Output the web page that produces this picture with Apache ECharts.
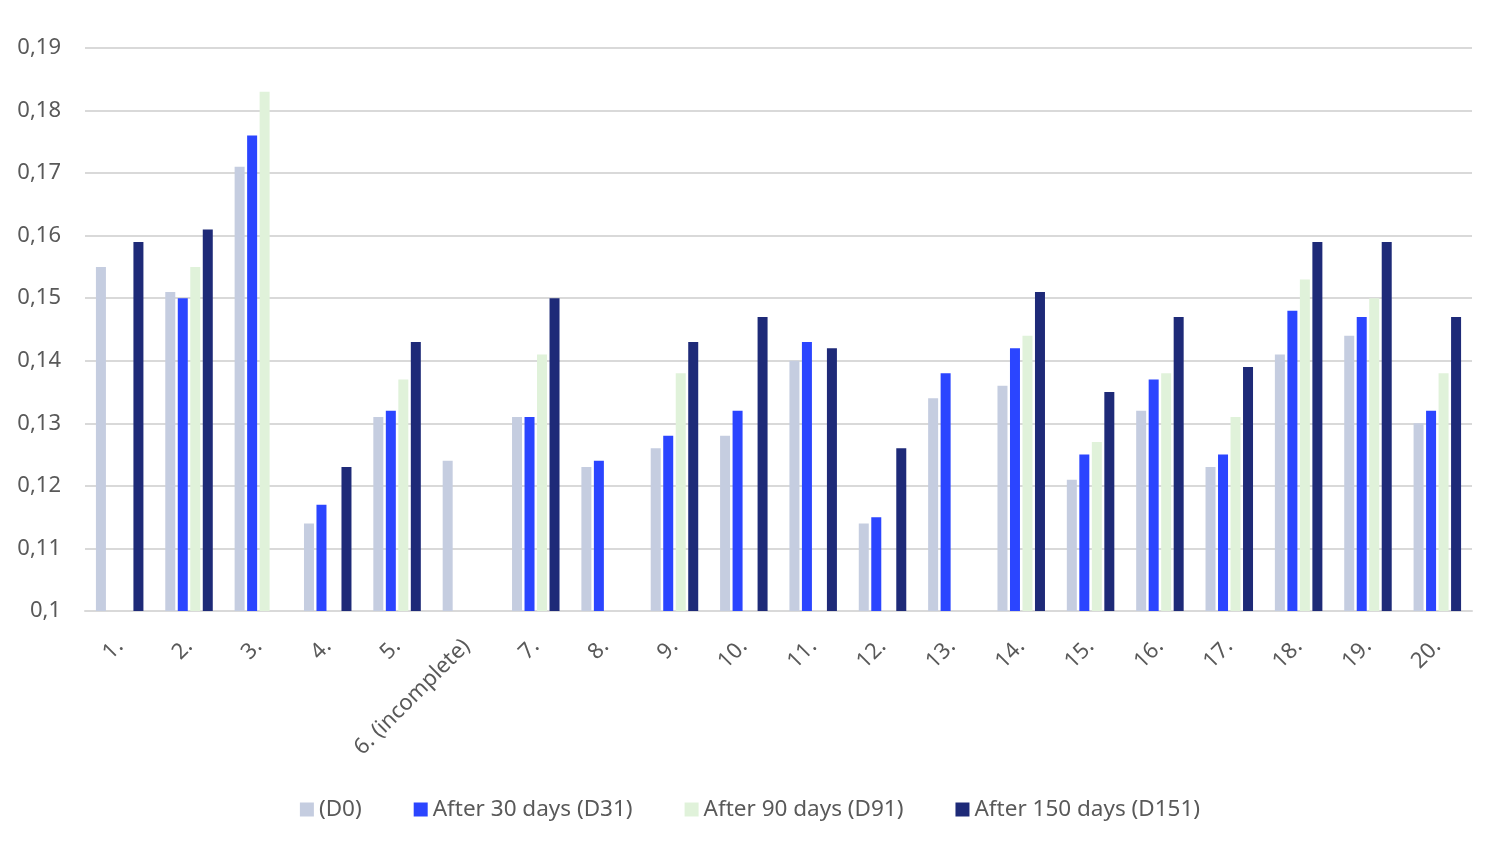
<!DOCTYPE html>
<html>
<head>
<meta charset="utf-8">
<script src="https://cdn.jsdelivr.net/npm/echarts@6/dist/echarts.min.js"></script>
<style>html,body{margin:0;padding:0;background:#fff;}#c{width:1500px;height:868px;}</style>
</head>
<body>
<div id="c"></div>
<script>
const categories = ['1.','2.','3.','4.','5.','6. (incomplete)','7.','8.','9.','10.','11.','12.','13.','14.','15.','16.','17.','18.','19.','20.'];
const seriesNames = ['(D0)','After 30 days (D31)','After 90 days (D91)','After 150 days (D151)'];
const d0   = [0.155,0.151,0.171,0.114,0.131,0.124,0.131,0.123,0.126,0.128,0.140,0.114,0.134,0.136,0.121,0.132,0.123,0.141,0.144,0.130];
const d31  = [null,0.150,0.176,0.117,0.132,null,0.131,0.124,0.128,0.132,0.143,0.115,0.138,0.142,0.125,0.137,0.125,0.148,0.147,0.132];
const d91  = [null,0.155,0.183,null,0.137,null,0.141,null,0.138,null,null,null,null,0.144,0.127,0.138,0.131,0.153,0.150,0.138];
const d151 = [0.159,0.161,null,0.123,0.143,null,0.150,null,0.143,0.147,0.142,0.126,null,0.151,0.135,0.147,0.139,0.159,0.159,0.147];
const colors = ['#c5cde0','#2b45ff','#e0f2da','#1e2a78'];
const allData = [d0,d31,d91,d151];

const chart = echarts.init(document.getElementById('c'));
chart.setOption({
  animation:false,
  color: colors,
  textStyle:{fontFamily:'Noto Sans'},
  grid:{left:85,right:28,top:48,bottom:257,containLabel:false},
  legend:{
    bottom:42, left:'center',
    itemWidth:14,itemHeight:14,itemGap:52,
    icon:'rect',
    textStyle:{fontSize:22.5,color:'#595959',fontFamily:'Noto Sans'},
    data: seriesNames
  },
  xAxis:{
    type:'category',
    data:categories,
    axisLine:{lineStyle:{color:'#d9d9d9',width:2}},
    axisTick:{show:false},
    axisLabel:{rotate:45,fontSize:22,color:'#595959',margin:32,interval:0}
  },
  yAxis:{
    type:'value',min:0.1,max:0.19,interval:0.01,
    axisLine:{show:false},axisTick:{show:false},
    splitLine:{lineStyle:{color:'#d9d9d9',width:2}},
    axisLabel:{fontSize:22,color:'#595959',margin:24,
      formatter:v=>{let s=(Math.round(v*100)/100).toString();return s.replace('.',',');}}
  },
  series: seriesNames.map((n,i)=>({
    name:n,type:'bar',data:allData[i],barWidth:10,barGap:'25%',
    itemStyle:{color:colors[i]}
  }))
});
</script>
</body>
</html>
